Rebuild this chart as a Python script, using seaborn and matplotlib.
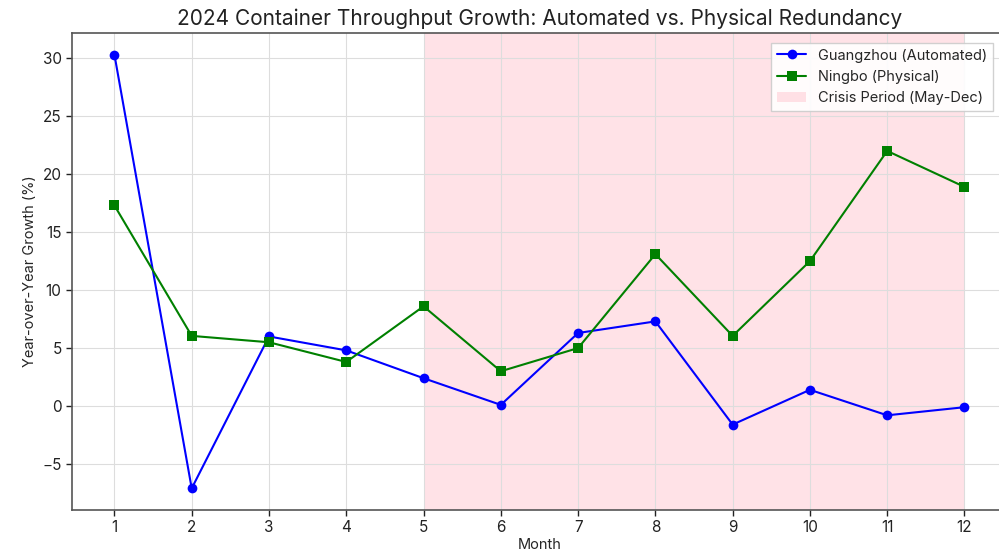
import numpy as np
import pandas as pd
import matplotlib
matplotlib.use('Agg')
import matplotlib.pyplot as plt
import seaborn as sns

months = list(range(1, 13))
guangzhou = [30.3, -7.1, 6.0, 4.8, 2.4, 0.1, 6.3, 7.3, -1.6, 1.4, -0.8, -0.1]
ningbo = [17.3, 6.05, 5.5, 3.8, 8.6, 3.0, 5.0, 13.1, 6.05, 12.5, 22.0, 18.9]
crisis_start, crisis_end = 5, 12

sns.set_style('whitegrid')
plt.rcParams['font.family'] = ['Inter', 'DejaVu Sans']

df = pd.DataFrame({'Month': months, 'Guangzhou': guangzhou, 'Ningbo': ningbo})

fig = plt.figure(figsize=(9.99, 5.55), dpi=100)
ax = fig.add_axes([0.072, 0.081, 0.936, 0.8595])

ax.axvspan(crisis_start, crisis_end, color='pink', alpha=0.45, lw=0,
           label='Crisis Period (May-Dec)', zorder=0)
sns.lineplot(data=df, x='Month', y='Guangzhou', color='blue', marker='o',
             markersize=7, markeredgewidth=0, lw=1.5,
             label='Guangzhou (Automated)', ax=ax)
sns.lineplot(data=df, x='Month', y='Ningbo', color='green', marker='s',
             markersize=7, markeredgewidth=0, lw=1.5,
             label='Ningbo (Physical)', ax=ax)

ax.set_xticks(months)
ax.grid(True, color='#dddddd', lw=0.8)
ax.set_axisbelow(True)
for s in ax.spines.values():
    s.set_color('#555555')
    s.set_linewidth(1.2)
ax.tick_params(axis='both', colors='#222222', labelsize=11, length=4,
               width=1, direction='out', left=True, bottom=True)
ax.tick_params(axis='both', labelcolor='#222222')

ax.set_title('2024 Container Throughput Growth: Automated vs. Physical Redundancy',
             fontsize=15, color='#222222', pad=6)
ax.set_xlabel('Month', fontsize=10.5, labelpad=2)
ax.set_ylabel('Year-over-Year Growth (%)', fontsize=10.5)

handles, labels = ax.get_legend_handles_labels()
order = [labels.index('Guangzhou (Automated)'), labels.index('Ningbo (Physical)'),
         labels.index('Crisis Period (May-Dec)')]
ax.legend([handles[i] for i in order], [labels[i] for i in order],
          loc='upper right', bbox_to_anchor=(0.993, 0.995), fontsize=10.5,
          frameon=True, framealpha=0.9, edgecolor='#cccccc', fancybox=False)

fig.savefig('out.png', dpi=100)
